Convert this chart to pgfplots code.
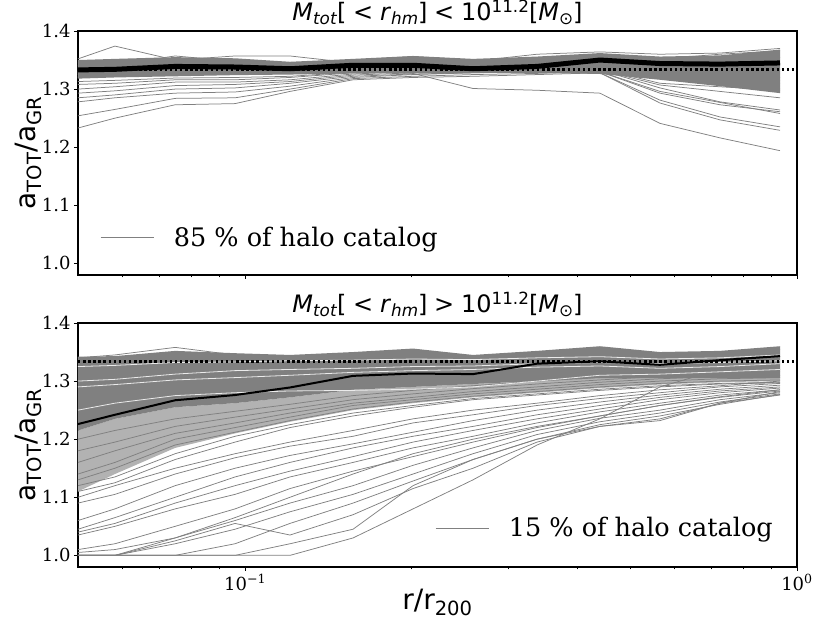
\documentclass[border=0pt]{standalone}
\usepackage{fontspec}
\usepackage{pgfplots}
\usepackage{pgfplotstable}
\pgfplotsset{compat=1.18}
\newfontfamily\dvsans{DejaVu Sans}
\newfontfamily\dvserif{DejaVu Serif}
\newcommand\tsub[1]{\raisebox{-0.18em}{\fontsize{16.8}{16.8}\selectfont #1}}
\newcommand\tsup[1]{\raisebox{0.34em}{\fontsize{16.8}{16.8}\selectfont #1}}
\newcommand\rel[1]{\hspace{0.28em}#1\hspace{0.28em}}
\newcommand\tfont{\dvsans\fontsize{24}{24}\selectfont}

% top panel: M_tot < 10^11.2
\pgfplotstableread{
x      med   T1    T2    T3    T4    T5    T6    T7    T8    D     L1    L2    L3    L4    L5    L6    L7    U1    U2    U3
0.0498 1.333 1.233 1.254 1.278 1.285 1.293 1.300 1.308 1.313 1.320 1.325 1.322 1.326 1.327 1.328 1.329 1.330 1.352 1.340 1.345
0.0581 1.334 1.250 1.265 1.285 1.290 1.297 1.304 1.310 1.315 1.322 1.326 1.324 1.328 1.329 1.330 1.330 1.331 1.374 1.342 1.348
0.0747 1.339 1.273 1.284 1.293 1.300 1.306 1.312 1.316 1.319 1.325 1.330 1.328 1.331 1.332 1.333 1.334 1.335 1.350 1.357 1.350
0.0959 1.338 1.275 1.285 1.295 1.302 1.308 1.312 1.316 1.320 1.327 1.330 1.328 1.331 1.332 1.333 1.334 1.335 1.345 1.348 1.357
0.1206 1.335 1.296 1.300 1.305 1.310 1.313 1.316 1.320 1.322 1.328 1.331 1.329 1.332 1.333 1.334 1.335 1.336 1.340 1.340 1.357
0.1569 1.341 1.316 1.318 1.320 1.322 1.324 1.326 1.328 1.329 1.330 1.332 1.330 1.333 1.334 1.335 1.336 1.337 1.345 1.350 1.345
0.2015 1.341 1.320 1.322 1.325 1.326 1.328 1.330 1.332 1.333 1.327 1.332 1.330 1.334 1.334 1.335 1.336 1.337 1.345 1.356 1.350
0.2588 1.335 1.322 1.325 1.328 1.328 1.330 1.332 1.333 1.334 1.301 1.333 1.331 1.333 1.334 1.335 1.336 1.337 1.340 1.350 1.348
0.3381 1.339 1.325 1.327 1.330 1.331 1.332 1.333 1.334 1.335 1.298 1.332 1.330 1.333 1.334 1.335 1.336 1.337 1.345 1.352 1.360
0.4395 1.350 1.328 1.330 1.332 1.333 1.334 1.335 1.336 1.337 1.293 1.328 1.328 1.330 1.330 1.333 1.333 1.335 1.350 1.356 1.364
0.5646 1.344 1.320 1.318 1.322 1.326 1.330 1.333 1.335 1.336 1.241 1.281 1.276 1.293 1.296 1.302 1.307 1.310 1.345 1.352 1.360
0.7254 1.343 1.312 1.308 1.315 1.320 1.325 1.330 1.333 1.335 1.216 1.252 1.247 1.273 1.277 1.278 1.296 1.304 1.350 1.360 1.362
0.9316 1.345 1.305 1.300 1.310 1.315 1.320 1.326 1.330 1.333 1.194 1.235 1.229 1.261 1.258 1.264 1.285 1.298 1.355 1.366 1.370
}\toptab

% bottom panel: M_tot > 10^11.2
\pgfplotstableread{
x      med   G1    G2    G3    G4    G5    G6    G7    S1    S2    S3    S4    P1    O1    O2    O3    O4    O5    O6    O7    O8    O9    O10   O11   O12   O13   O14
0.0498 1.226 1.130 1.140 1.160 1.180 1.200 1.120 1.110 1.325 1.300 1.290 1.250 1.340 1.100 1.090 1.060 1.045 1.040 1.035 1.010 1.000 1.000 1.000 1.000 1.000 1.000 1.005
0.0581 1.242 1.150 1.160 1.180 1.195 1.215 1.135 1.125 1.327 1.303 1.294 1.262 1.345 1.120 1.105 1.080 1.065 1.055 1.050 1.020 1.000 1.000 1.000 1.000 1.000 1.000 1.010
0.0747 1.267 1.190 1.200 1.210 1.222 1.235 1.175 1.165 1.332 1.312 1.302 1.275 1.358 1.150 1.140 1.120 1.100 1.090 1.080 1.050 1.030 1.020 1.000 1.025 1.000 1.000 1.030
0.0959 1.276 1.212 1.220 1.228 1.238 1.248 1.205 1.195 1.333 1.318 1.306 1.280 1.345 1.175 1.168 1.150 1.135 1.120 1.105 1.080 1.060 1.045 1.020 1.055 1.000 1.000 1.065
0.1206 1.289 1.232 1.238 1.245 1.252 1.260 1.225 1.220 1.335 1.320 1.310 1.283 1.342 1.195 1.188 1.172 1.160 1.145 1.135 1.115 1.090 1.075 1.055 1.035 1.020 1.000 1.100
0.1569 1.309 1.252 1.258 1.262 1.268 1.275 1.245 1.240 1.336 1.322 1.315 1.284 1.345 1.215 1.205 1.192 1.185 1.170 1.160 1.145 1.120 1.105 1.090 1.070 1.045 1.030 1.140
0.2015 1.313 1.264 1.268 1.272 1.278 1.284 1.258 1.255 1.338 1.325 1.318 1.286 1.350 1.235 1.228 1.212 1.205 1.195 1.185 1.170 1.155 1.140 1.128 1.115 1.120 1.080 1.175
0.2588 1.312 1.274 1.278 1.282 1.287 1.292 1.270 1.268 1.337 1.326 1.320 1.290 1.340 1.250 1.242 1.232 1.222 1.215 1.205 1.195 1.185 1.175 1.165 1.150 1.165 1.130 1.200
0.3381 1.330 1.282 1.286 1.290 1.295 1.300 1.278 1.276 1.340 1.330 1.324 1.300 1.345 1.262 1.258 1.250 1.242 1.235 1.228 1.220 1.215 1.208 1.200 1.195 1.200 1.190 1.222
0.4395 1.334 1.290 1.294 1.298 1.302 1.306 1.286 1.284 1.342 1.332 1.326 1.310 1.350 1.275 1.270 1.264 1.258 1.252 1.247 1.240 1.236 1.230 1.225 1.222 1.222 1.235 1.240
0.5646 1.328 1.296 1.300 1.304 1.308 1.312 1.292 1.290 1.338 1.330 1.322 1.312 1.345 1.285 1.280 1.276 1.272 1.268 1.262 1.258 1.250 1.245 1.240 1.235 1.232 1.290 1.258
0.7254 1.336 1.300 1.304 1.308 1.312 1.316 1.296 1.295 1.340 1.332 1.325 1.316 1.350 1.292 1.290 1.286 1.283 1.280 1.276 1.272 1.268 1.264 1.260 1.262 1.262 1.320 1.273
0.9316 1.343 1.302 1.306 1.310 1.316 1.320 1.298 1.297 1.345 1.335 1.330 1.320 1.355 1.300 1.296 1.293 1.290 1.288 1.285 1.283 1.280 1.278 1.277 1.282 1.276 1.335 1.285
}\bottab

\begin{document}
\begin{tikzpicture}
\useasboundingbox (-78pt,-64pt) rectangle (737pt,567pt);

% ---------------- top panel ----------------
\begin{axis}[
    at={(0pt,292pt)},
    scale only axis, width=719pt, height=244pt,
    xmode=log, xmin=0.0498, xmax=1, ymin=0.98, ymax=1.4,
    xtick={0.1,1}, xticklabels={},
    minor xtick={0.06,0.07,0.08,0.09,0.2,0.3,0.4,0.5,0.6,0.7,0.8,0.9},
    ytick={1.0,1.1,1.2,1.3,1.4}, yticklabels={1.0,1.1,1.2,1.3,1.4},
    tick align=outside, xtick pos=left, ytick pos=left,
    major tick length=4pt, minor tick length=2.5pt,
    tick style={black, line width=0.8pt},
    axis line style={line width=1.3pt},
    ticklabel style={font=\dvserif\fontsize{18}{18}\selectfont},
    ylabel={a\textsubscript{TOT}/a\textsubscript{GR}},
    ylabel style={font=\dvsans\fontsize{28}{28}\selectfont,
      at={(axis description cs:-0.0685,0.5)}, anchor=center},
    title={\tfont\textit{M}\tsub{\textit{tot}}[\rel{<}\textit{r}\tsub{\textit{hm}}]\rel{<}10\tsup{11.2}[\textit{M}\tsub{⊙}]},
    title style={font=\tfont, at={(axis description cs:0.5,1)}, anchor=base, yshift=4.5pt},
    legend image code/.code={\draw[#1] (0pt,0pt) -- (53pt,0pt); \path (71pt,0pt);},
    legend style={draw=none, fill=none, inner sep=0pt, anchor=west,
      at={(axis description cs:0.0306,0.153)},
      font=\dvserif\fontsize{25.5}{28}\selectfont},
    legend cell align=left,
  ]
\addplot[fill=black!50, draw=none, forget plot] coordinates {
 (0.0498,1.350)(0.0581,1.352)(0.0747,1.355)(0.0959,1.353)(0.1206,1.347)(0.1569,1.352)(0.2015,1.357)
 (0.2588,1.352)(0.3381,1.356)(0.4395,1.362)(0.5646,1.356)(0.7254,1.358)(0.9316,1.368)
 (0.9316,1.293)(0.7254,1.305)(0.5646,1.316)(0.4395,1.326)(0.3381,1.328)(0.2588,1.328)(0.2015,1.328)
 (0.1569,1.327)(0.1206,1.325)(0.0959,1.324)(0.0747,1.322)(0.0581,1.320)(0.0498,1.318)};
\addplot[black!50, line width=0.75pt] table[x=x,y=T1]{\toptab};
\addlegendentry{85 \% of halo catalog}
\addplot[black!50, line width=0.75pt, forget plot] table[x=x,y=T2]{\toptab};
\addplot[black!50, line width=0.75pt, forget plot] table[x=x,y=T3]{\toptab};
\addplot[black!50, line width=0.75pt, forget plot] table[x=x,y=T4]{\toptab};
\addplot[black!50, line width=0.75pt, forget plot] table[x=x,y=T5]{\toptab};
\addplot[black!50, line width=0.75pt, forget plot] table[x=x,y=T6]{\toptab};
\addplot[black!50, line width=0.75pt, forget plot] table[x=x,y=T7]{\toptab};
\addplot[black!50, line width=0.75pt, forget plot] table[x=x,y=T8]{\toptab};
\addplot[black!50, line width=0.75pt, forget plot] table[x=x,y=D]{\toptab};
\addplot[black!50, line width=0.75pt, forget plot] table[x=x,y=L1]{\toptab};
\addplot[black!50, line width=0.75pt, forget plot] table[x=x,y=L2]{\toptab};
\addplot[black!50, line width=0.75pt, forget plot] table[x=x,y=L3]{\toptab};
\addplot[black!50, line width=0.75pt, forget plot] table[x=x,y=L4]{\toptab};
\addplot[black!50, line width=0.75pt, forget plot] table[x=x,y=L5]{\toptab};
\addplot[black!50, line width=0.75pt, forget plot] table[x=x,y=L6]{\toptab};
\addplot[black!50, line width=0.75pt, forget plot] table[x=x,y=L7]{\toptab};
\addplot[black!50, line width=0.75pt, forget plot] table[x=x,y=U1]{\toptab};
\addplot[black!50, line width=0.75pt, forget plot] table[x=x,y=U2]{\toptab};
\addplot[black!50, line width=0.75pt, forget plot] table[x=x,y=U3]{\toptab};
\addplot[black, line width=5pt, forget plot] table[x=x,y=med]{\toptab};
\addplot[black, line width=2.5pt, dash pattern=on 2.5pt off 2.6pt, forget plot] coordinates {(0.0498,1.33333) (1,1.33333)};
\end{axis}

% ---------------- bottom panel ----------------
\begin{axis}[
    at={(0pt,0pt)},
    scale only axis, width=719pt, height=244pt,
    xmode=log, xmin=0.0498, xmax=1, ymin=0.98, ymax=1.4,
    xtick={0.1,1}, xticklabels={10\textsuperscript{−1},10\textsuperscript{0}},
    minor xtick={0.06,0.07,0.08,0.09,0.2,0.3,0.4,0.5,0.6,0.7,0.8,0.9},
    ytick={1.0,1.1,1.2,1.3,1.4}, yticklabels={1.0,1.1,1.2,1.3,1.4},
    tick align=outside, xtick pos=left, ytick pos=left,
    major tick length=4pt, minor tick length=2.5pt,
    tick style={black, line width=0.8pt},
    axis line style={line width=1.3pt},
    ticklabel style={font=\dvserif\fontsize{18}{18}\selectfont},
    ylabel={a\textsubscript{TOT}/a\textsubscript{GR}},
    ylabel style={font=\dvsans\fontsize{28}{28}\selectfont,
      at={(axis description cs:-0.0685,0.5)}, anchor=center},
    xlabel={r/r\textsubscript{200}},
    xlabel style={font=\dvsans\fontsize{28}{28}\selectfont,
      at={(axis description cs:0.5,-0.176)}, anchor=base},
    title={\tfont\textit{M}\tsub{\textit{tot}}[\rel{<}\textit{r}\tsub{\textit{hm}}]\rel{>}10\tsup{11.2}[\textit{M}\tsub{⊙}]},
    title style={font=\tfont, at={(axis description cs:0.5,1)}, anchor=base, yshift=4.5pt},
    legend image code/.code={\draw[#1] (0pt,0pt) -- (53pt,0pt); \path (71pt,0pt);},
    legend style={draw=none, fill=none, inner sep=0pt, anchor=west,
      at={(axis description cs:0.4965,0.16)},
      font=\dvserif\fontsize{25.5}{28}\selectfont},
    legend cell align=left,
  ]
\addplot[fill=black!30, draw=none, forget plot] coordinates {
 (0.0498,1.215)(0.0581,1.235)(0.0747,1.255)(0.0959,1.262)(0.1206,1.272)(0.1569,1.285)(0.2015,1.290)
 (0.2588,1.295)(0.3381,1.300)(0.4395,1.305)(0.5646,1.305)(0.7254,1.305)(0.9316,1.305)
 (0.9316,1.300)(0.7254,1.298)(0.5646,1.294)(0.4395,1.288)(0.3381,1.280)(0.2588,1.272)(0.2015,1.262)
 (0.1569,1.250)(0.1206,1.230)(0.0959,1.210)(0.0747,1.185)(0.0581,1.140)(0.0498,1.110)};
\addplot[fill=black!50, draw=none, forget plot] coordinates {
 (0.0498,1.342)(0.0581,1.343)(0.0747,1.352)(0.0959,1.348)(0.1206,1.345)(0.1569,1.350)(0.2015,1.356)
 (0.2588,1.345)(0.3381,1.352)(0.4395,1.360)(0.5646,1.350)(0.7254,1.352)(0.9316,1.360)
 (0.9316,1.305)(0.7254,1.305)(0.5646,1.305)(0.4395,1.305)(0.3381,1.300)(0.2588,1.295)(0.2015,1.290)
 (0.1569,1.285)(0.1206,1.272)(0.0959,1.262)(0.0747,1.255)(0.0581,1.235)(0.0498,1.215)};
\addplot[black!50, line width=0.75pt] table[x=x,y=O1]{\bottab};
\addlegendentry{15 \% of halo catalog}
\addplot[black!50, line width=0.75pt, forget plot] table[x=x,y=O2]{\bottab};
\addplot[black!50, line width=0.75pt, forget plot] table[x=x,y=O3]{\bottab};
\addplot[black!50, line width=0.75pt, forget plot] table[x=x,y=O4]{\bottab};
\addplot[black!50, line width=0.75pt, forget plot] table[x=x,y=O5]{\bottab};
\addplot[black!50, line width=0.75pt, forget plot] table[x=x,y=O6]{\bottab};
\addplot[black!50, line width=0.75pt, forget plot] table[x=x,y=O7]{\bottab};
\addplot[black!50, line width=0.75pt, forget plot] table[x=x,y=O8]{\bottab};
\addplot[black!50, line width=0.75pt, forget plot] table[x=x,y=O9]{\bottab};
\addplot[black!50, line width=0.75pt, forget plot] table[x=x,y=O10]{\bottab};
\addplot[black!50, line width=0.75pt, forget plot] table[x=x,y=O11]{\bottab};
\addplot[black!50, line width=0.75pt, forget plot] table[x=x,y=O12]{\bottab};
\addplot[black!50, line width=0.75pt, forget plot] table[x=x,y=O13]{\bottab};
\addplot[black!50, line width=0.75pt, forget plot] table[x=x,y=O14]{\bottab};
\addplot[black!50, line width=0.75pt, forget plot] table[x=x,y=G1]{\bottab};
\addplot[black!50, line width=0.75pt, forget plot] table[x=x,y=G2]{\bottab};
\addplot[black!50, line width=0.75pt, forget plot] table[x=x,y=G3]{\bottab};
\addplot[black!50, line width=0.75pt, forget plot] table[x=x,y=G4]{\bottab};
\addplot[black!50, line width=0.75pt, forget plot] table[x=x,y=G5]{\bottab};
\addplot[black!50, line width=0.75pt, forget plot] table[x=x,y=G6]{\bottab};
\addplot[black!50, line width=0.75pt, forget plot] table[x=x,y=G7]{\bottab};
\addplot[black!50, line width=0.75pt, forget plot] table[x=x,y=P1]{\bottab};
\addplot[black!8, line width=0.8pt, forget plot] table[x=x,y=S1]{\bottab};
\addplot[black!8, line width=0.8pt, forget plot] table[x=x,y=S2]{\bottab};
\addplot[black!8, line width=0.8pt, forget plot] table[x=x,y=S3]{\bottab};
\addplot[black!8, line width=0.8pt, forget plot] table[x=x,y=S4]{\bottab};
\addplot[black, line width=2pt, forget plot] table[x=x,y=med]{\bottab};
\addplot[black, line width=2.5pt, dash pattern=on 2.5pt off 2.6pt, forget plot] coordinates {(0.0498,1.33333) (1,1.33333)};
\end{axis}
\end{tikzpicture}
\end{document}
